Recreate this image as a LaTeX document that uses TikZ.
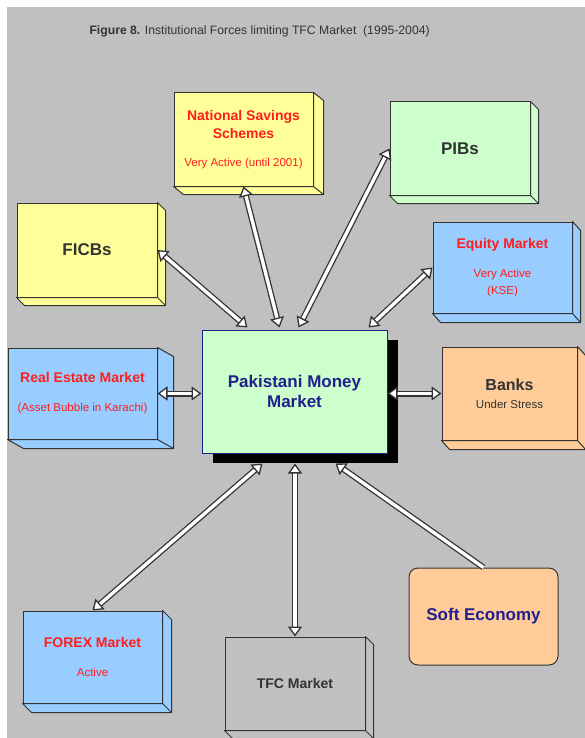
\documentclass[tikz,border=0pt]{standalone}
\usepackage{fontspec}
\setmainfont{Liberation Sans}
\usetikzlibrary{calc,arrows.meta}

\definecolor{panelgray}{HTML}{C0C0C0}
\definecolor{paleyellow}{HTML}{FFFF99}
\definecolor{mintgreen}{HTML}{CCFFCC}
\definecolor{skyblue}{HTML}{99CCFF}
\definecolor{peach}{HTML}{FFCC99}
\definecolor{alertred}{HTML}{FF1E1E}
\definecolor{navyblue}{HTML}{20208C}
\definecolor{inkgray}{HTML}{333333}

\newcommand{\headfont}{\fontsize{14}{17}\selectfont\bfseries}
\newcommand{\bigfont}{\fontsize{17}{20}\selectfont\bfseries}
\newcommand{\notefont}{\fontsize{11.5}{14}\selectfont\mdseries}

% right and bottom faces of a box node
\newcommand{\slab}[4]{%
  \filldraw[slabface, fill=#4] (#1.north east) -- ++(#2,#3)
    -- ($(#1.south east)+(#2,#3)$) -- ($(#1.south west)+(#2,#3)$)
    -- (#1.south west) -- (#1.south east) -- cycle;
  \draw[slabface] (#1.south east) -- ++(#2,#3);
}

\tikzset{
  box/.style={
    rectangle,
    draw=inkgray, line width=1pt,
    inner sep=0pt,
    minimum width=139pt,
    minimum height=93pt,
    align=center,
    text=inkgray},
  slabface/.style={draw=inkgray, line width=1pt, line join=round},
  redbox/.style={box, text=alertred, font=\headfont},
  link/.style={
    draw=inkgray, line width=1.3pt,
    double=white, double distance=3.4pt,
    {Triangle[length=10pt,width=14pt,fill=white]}-{Triangle[length=10pt,width=14pt,fill=white]}},
  onelink/.style={link, -{Triangle[length=10pt,width=14pt,fill=white]}},
}

\begin{document}
\begin{tikzpicture}[x=1pt,y=-1pt]
  \useasboundingbox (0,0) rectangle (585,738);
  \fill[panelgray] (7,7) rectangle (585,738);

  \node[anchor=west, font=\fontsize{12.2}{15}\selectfont, text=inkgray] (caption) at (86,31)
    {\textbf{Figure 8.} Institutional Forces limiting TFC Market~~(1995-2004)};

  % the money market in the middle, with its shadow
  \node[box, draw=none, fill=black, minimum width=185pt, minimum height=123pt] (pmmshadow) at (305.5,401.5) {};
  \node[box, draw=navyblue, fill=mintgreen, text=navyblue, font=\bigfont,
        minimum width=185pt, minimum height=123pt] (pmm) at (294.5,391.5) {Pakistani Money\\Market};

  \node[redbox, fill=paleyellow] (nss) at (243.5,139.5)
    {National Savings\\[1pt]Schemes\\[11pt]{\notefont Very Active (until 2001)}};
  \node[box, fill=mintgreen, font=\bigfont, minimum width=140pt] (pibs) at (460,148.5) {PIBs};
  \node[box, fill=paleyellow, font=\bigfont, minimum width=140pt, minimum height=94pt] (ficbs) at (87,250) {FICBs};
  \node[redbox, fill=skyblue, minimum height=91pt] (equity) at (502.5,267.5)
    {Equity Market\\[12pt]{\notefont Very Active}\\{\notefont (KSE)}};
  \node[redbox, fill=skyblue, minimum width=149pt, minimum height=91pt] (realestate) at (82.5,393.5)
    {Real Estate Market\\[12pt]{\notefont (Asset Bubble in Karachi)}};
  \node[box, fill=peach, font=\fontsize{16}{18}\selectfont\bfseries, minimum width=135pt] (banks) at (509.5,393.5)
    {Banks\\{\notefont Under Stress}};
  \node[redbox, fill=skyblue, minimum height=92pt] (forex) at (92.5,657)
    {FOREX Market\\[12pt]{\notefont Active}};
  \node[box, fill=panelgray, font=\headfont, minimum width=140pt] (tfc) at (295,683.5) {TFC Market};
  \node[box, fill=peach, rounded corners=9pt, text=navyblue, font=\bigfont,
        minimum width=149pt, minimum height=97pt] (soft) at (483.5,616.5) {Soft Economy};

  \slab{nss}{10}{8}{paleyellow}
  \slab{pibs}{8}{8}{mintgreen}
  \slab{ficbs}{8}{8}{paleyellow}
  \slab{equity}{8}{9}{skyblue}
  \slab{realestate}{16}{9}{skyblue}
  \slab{banks}{8}{9}{peach}
  \slab{forex}{9}{9}{skyblue}
  \slab{tfc}{8}{8}{panelgray}

  % forces acting on the market
  \draw[link] (ficbs.east) -- ($(pmm.north)+(-47,-2)$);
  \draw[link] (nss.south) -- ($(pmm.north)+(-15,-2)$);
  \draw[link] (pibs.west) -- ($(pmm.north)+(4,-2)$);
  \draw[link] (equity.west) -- ($(pmm.north east)+(-19,-2)$);
  \draw[link] (realestate.east) -- (realestate.east -| pmm.west);
  \draw[link] (banks.west) -- (banks.west -| pmm.east);
  \draw[link] (forex.north) -- ($(pmmshadow.south)+(-43,0)$);
  \draw[link] (tfc.north) -- (tfc.north |- pmmshadow.south);
  \draw[onelink] (soft.north) -- ($(pmmshadow.south)+(30,0)$);
\end{tikzpicture}
\end{document}
